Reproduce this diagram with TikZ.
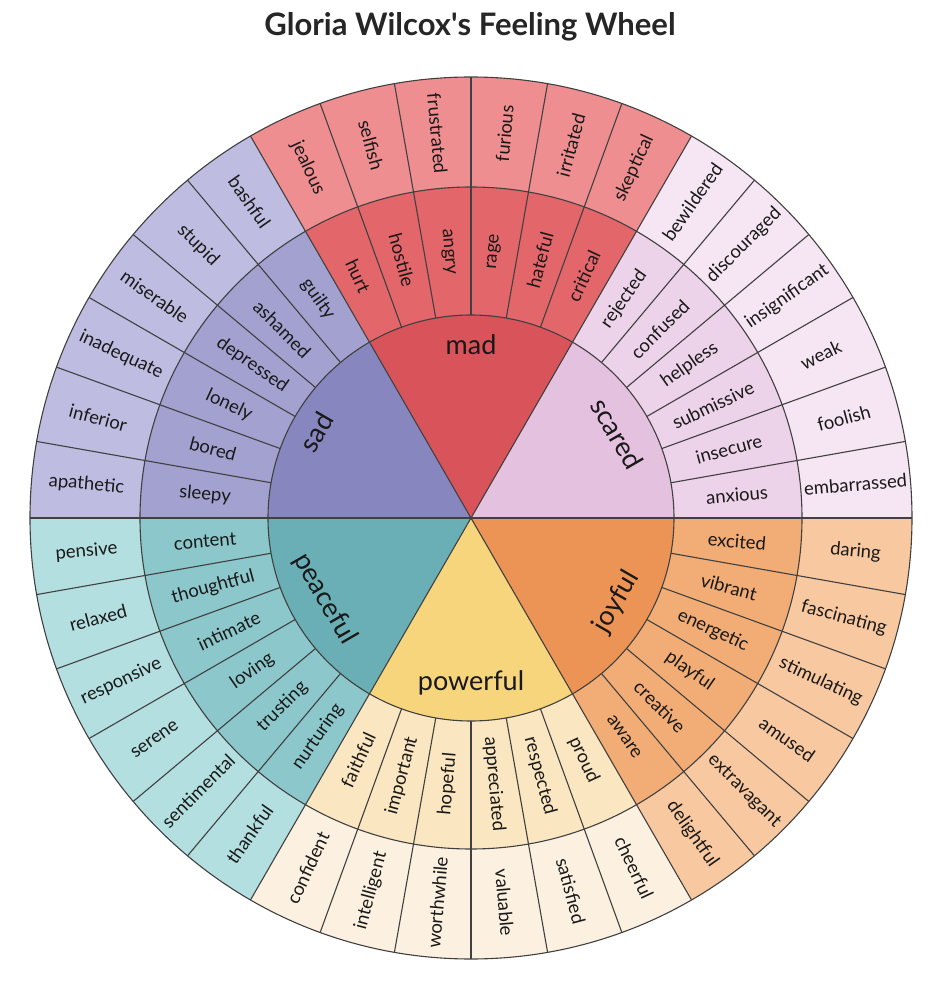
\documentclass[tikz,border=0pt]{standalone}
\usepackage{fontspec}
\setmainfont{Lato}
\usepackage{xcolor}
\usepackage{tikz}
\definecolor{scaredcore}{HTML}{E5C1E0}
\definecolor{scaredmid}{HTML}{EDD3EA}
\definecolor{scaredout}{HTML}{F6E5F3}
\definecolor{madcore}{HTML}{D9545A}
\definecolor{madmid}{HTML}{E3666B}
\definecolor{madout}{HTML}{EF8E90}
\definecolor{sadcore}{HTML}{8886BF}
\definecolor{sadmid}{HTML}{A3A1D0}
\definecolor{sadout}{HTML}{BEBDE1}
\definecolor{peacecore}{HTML}{6AAFB6}
\definecolor{peacemid}{HTML}{8CC7CB}
\definecolor{peaceout}{HTML}{B4DFE0}
\definecolor{powercore}{HTML}{F6D57D}
\definecolor{powermid}{HTML}{FAE6C0}
\definecolor{powerout}{HTML}{FCF1E0}
\definecolor{joycore}{HTML}{EC9455}
\definecolor{joymid}{HTML}{F2AD76}
\definecolor{joyout}{HTML}{F8C9A1}
\tikzset{
  wlborder/.style={line width=1.1pt, draw=black!75},
  wlword/.style={inner sep=0pt, font=\fontsize{18.5}{20}\selectfont, text=black!90},
  wlcore/.style={inner sep=0pt, font=\fontsize{27}{30}\selectfont, text=black!90},
  wltitle/.style={inner sep=0pt, font=\fontsize{31}{34}\selectfont\bfseries, text=black!85},
}
\begin{document}
\begin{tikzpicture}[x=1pt,y=1pt]
\useasboundingbox (-471,-464) rectangle (467,518);
\node[wltitle, anchor=base] (title) at (-1,482) {Gloria Wilcox\textquotesingle s Feeling Wheel};
% three rings per feeling
\foreach \a/\cc/\cm/\co in {0/scaredcore/scaredmid/scaredout, 60/madcore/madmid/madout,
    120/sadcore/sadmid/sadout, 180/peacecore/peacemid/peaceout,
    240/powercore/powermid/powerout, 300/joycore/joymid/joyout}{
  \fill[\co] (0,0) -- (\a:441) arc[start angle=\a, delta angle=60, radius=441] -- cycle;
  \fill[\cm] (0,0) -- (\a:331) arc[start angle=\a, delta angle=60, radius=331] -- cycle;
  \fill[\cc] (0,0) -- (\a:203) arc[start angle=\a, delta angle=60, radius=203] -- cycle;
}
\draw[wlborder] (0,0) circle[radius=203] (0,0) circle[radius=331] (0,0) circle[radius=441];
\foreach \a in {0,60,...,300} \draw[wlborder] (0,0) -- (\a:203);
\foreach \a in {0,10,...,350} \draw[wlborder] (\a:203) -- (\a:441);
% core feelings
\node[wlcore] (mad) at (90:173) {mad};
\node[wlcore, rotate=-60] (scared) at (30:169) {scared};
\node[wlcore, rotate=60] (joyful) at (-30:168) {joyful};
\node[wlcore] (powerful) at (270:165) {powerful};
\node[wlcore, rotate=-60] (peaceful) at (209:167) {peaceful};
\node[wlcore, rotate=60] (sad) at (151:177) {sad};
% middle ring
\foreach \w [count=\i from 0] in {anxious, insecure, submissive, helpless, confused, rejected,
    critical, hateful, rage, angry, hostile, hurt,
    guilty, ashamed, depressed, lonely, bored, sleepy,
    content, thoughtful, intimate, loving, trusting, nurturing,
    faithful, important, hopeful, appreciated, respected, proud,
    aware, creative, playful, energetic, vibrant, excited}{
  \pgfmathsetmacro{\ang}{5+10*\i}
  \pgfmathsetmacro{\rot}{and(\ang>90,\ang<270) ? \ang+180 : \ang}
  \node[wlword, rotate=\rot] (mid\i) at (\ang:267) {\w};
}
% outer ring
\foreach \w [count=\i from 0] in {embarrassed, foolish, weak, insignificant, discouraged, bewildered,
    skeptical, irritated, furious, frustrated, selfish, jealous,
    bashful, stupid, miserable, inadequate, inferior, apathetic,
    pensive, relaxed, responsive, serene, sentimental, thankful,
    confident, intelligent, worthwhile, valuable, satisfied, cheerful,
    delightful, extravagant, amused, stimulating, fascinating, daring}{
  \pgfmathsetmacro{\ang}{5+10*\i}
  \pgfmathsetmacro{\rot}{and(\ang>90,\ang<270) ? \ang+180 : \ang}
  \node[wlword, rotate=\rot] (out\i) at (\ang:386) {\w};
}
\end{tikzpicture}
\end{document}
